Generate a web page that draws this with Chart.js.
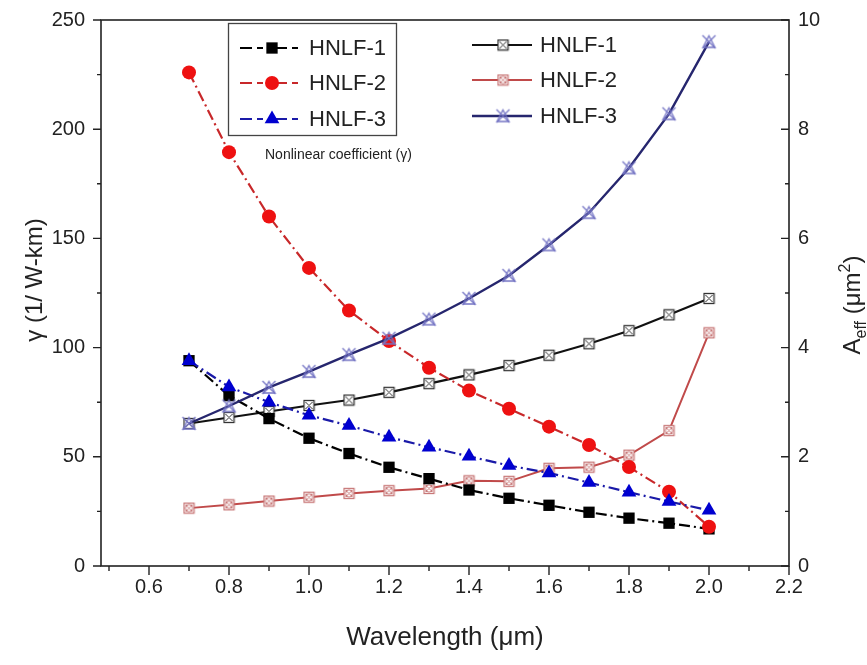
<!DOCTYPE html>
<html><head><meta charset="utf-8">
<script src="https://cdn.jsdelivr.net/npm/chart.js@4.4.1/dist/chart.umd.min.js"></script>
<style>html,body{margin:0;padding:0;background:#fff;}#wrap{width:867px;height:665px;}</style>
</head><body><div id="wrap"><canvas id="c" width="867" height="665"></canvas></div>
<script>
// ---- data ----
const wavelengths = [0.7,0.8,0.9,1.0,1.1,1.2,1.3,1.4,1.5,1.6,1.7,1.8,1.9,2.0];
const gammaHNLF1 = [94,78,67.5,58.5,51.5,45.2,40,34.8,31,27.8,24.6,21.9,19.6,17];
const gammaHNLF2 = [226,189.5,160,136.5,117,103,90.8,80.3,72,63.8,55.4,45.3,34,18];
const gammaHNLF3 = [94,82,75,69,64.3,59,54.4,50.2,46,42.6,38.2,33.8,29.5,25.5];
const aeffHNLF1 = [2.61,2.72,2.83,2.94,3.04,3.18,3.34,3.5,3.67,3.86,4.07,4.31,4.6,4.9];
const aeffHNLF2 = [1.06,1.12,1.19,1.26,1.33,1.38,1.42,1.56,1.55,1.79,1.81,2.03,2.48,4.27];
const aeffHNLF3 = [2.61,2.93,3.27,3.56,3.87,4.17,4.52,4.9,5.32,5.88,6.47,7.29,8.28,9.6];
const seriesNames = ['HNLF-1','HNLF-2','HNLF-3'];
const xTicks = [0.6,0.8,1.0,1.2,1.4,1.6,1.8,2.0,2.2];
const xMinorTicks = [0.5,0.7,0.9,1.1,1.3,1.5,1.7,1.9,2.1];
const yLeftTicks = [0,50,100,150,200,250];
const yLeftMinorTicks = [25,75,125,175,225];
const yRightTicks = [0,2,4,6,8,10];
const yRightMinorTicks = [1,3,5,7,9];
const xTitle = 'Wavelength (\u03bcm)';
const yLeftTitle = '\u03b3 (1/ W-km)';
const annotationText = 'Nonlinear coefficient (\u03b3)';

// ---- styles ----
const FF = '"Liberation Sans", Arial, sans-serif';
const DASHDOT = [11,4,2,4];

function mk(size, draw){
  const c=document.createElement('canvas'); c.width=size; c.height=size;
  const g=c.getContext('2d'); draw(g,size); return c;
}
const boxBlack = mk(13,(g,s)=>{g.strokeStyle='#333';g.lineWidth=1.3;g.fillStyle='#fff';
  g.fillRect(1,1,s-2,s-2);g.strokeRect(1.5,1.5,s-3,s-3);
  g.lineWidth=1;g.beginPath();g.moveTo(3,3);g.lineTo(s-3,s-3);g.moveTo(s-3,3);g.lineTo(3,s-3);g.stroke();});
const boxRed = mk(13,(g,s)=>{g.strokeStyle='#c87878';g.lineWidth=1.3;g.fillStyle='#fff';
  g.fillRect(1,1,s-2,s-2);g.strokeRect(1.5,1.5,s-3,s-3);
  g.lineWidth=1;g.beginPath();g.arc(s/2,s/2,3.6,0,Math.PI*2);g.stroke();
  g.beginPath();g.moveTo(3,3);g.lineTo(s-3,s-3);g.moveTo(s-3,3);g.lineTo(3,s-3);g.stroke();});
const xTriBlue = mk(17,(g,s)=>{g.strokeStyle='#7474c4';g.lineWidth=1.3;
  g.beginPath();g.moveTo(2,2);g.lineTo(s-2,s-2);g.moveTo(s-2,2);g.lineTo(2,s-2);g.stroke();
  g.beginPath();g.moveTo(s/2,2.5);g.lineTo(s-2.5,s-3);g.lineTo(2.5,s-3);g.closePath();g.stroke();});

const datasets = [
  {label:'Aeff '+seriesNames[0], data:aeffHNLF1, yAxisID:'yR', order:5, borderColor:'#111', borderWidth:2.2, pointStyle:boxBlack, pointRadius:6.5},
  {label:'Aeff '+seriesNames[1], data:aeffHNLF2, yAxisID:'yR', order:4, borderColor:'#c04a4a', borderWidth:2, pointStyle:boxRed, pointRadius:6.5},
  {label:'Aeff '+seriesNames[2], data:aeffHNLF3, yAxisID:'yR', order:0, borderColor:'#26266e', borderWidth:2.4, pointStyle:xTriBlue, pointRadius:8.5},
  {label:'gamma '+seriesNames[0], data:gammaHNLF1, yAxisID:'yL', order:3, borderColor:'#000', backgroundColor:'#000', borderWidth:2.2, borderDash:DASHDOT, pointStyle:'rect', pointRadius:8, pointBorderWidth:0},
  {label:'gamma '+seriesNames[1], data:gammaHNLF2, yAxisID:'yL', order:2, borderColor:'#c8282a', backgroundColor:'#ee1111', borderWidth:2.2, borderDash:DASHDOT, pointStyle:'circle', pointRadius:7, pointBorderWidth:0},
  {label:'gamma '+seriesNames[2], data:gammaHNLF3, yAxisID:'yL', order:1, borderColor:'#1a1aa8', backgroundColor:'#0000d0', borderWidth:2.2, borderDash:DASHDOT, pointStyle:'triangle', pointRadius:8.5, pointBorderWidth:0},
].map(d=>Object.assign({tension:0, fill:false, pointHoverRadius:d.pointRadius}, d, {data:d.data.map((v,i)=>({x:wavelengths[i],y:v}))}));

function setTicks(list){ return scale=>{ scale.ticks = list.map(v=>({value:v})); }; }

const decor = {
  id:'decor',
  afterDraw(chart){
    const {ctx, chartArea:a, scales:{x,yL,yR}} = chart;
    ctx.save();
    ctx.strokeStyle='#222'; ctx.lineWidth=1.6;
    ctx.strokeRect(a.left,a.top,a.right-a.left,a.bottom-a.top);
    ctx.lineWidth=1.4;
    ctx.beginPath();
    xTicks.forEach(v=>{const p=x.getPixelForValue(v); ctx.moveTo(p,a.bottom); ctx.lineTo(p,a.bottom+9);});
    xMinorTicks.forEach(v=>{const p=x.getPixelForValue(v); ctx.moveTo(p,a.bottom); ctx.lineTo(p,a.bottom+5);});
    yLeftTicks.forEach(v=>{const p=yL.getPixelForValue(v); ctx.moveTo(a.left-8,p); ctx.lineTo(a.left,p);});
    yLeftMinorTicks.forEach(v=>{const p=yL.getPixelForValue(v); ctx.moveTo(a.left-4,p); ctx.lineTo(a.left,p);});
    yRightTicks.forEach(v=>{const p=yR.getPixelForValue(v); ctx.moveTo(a.right-8,p); ctx.lineTo(a.right,p);});
    yRightMinorTicks.forEach(v=>{const p=yR.getPixelForValue(v); ctx.moveTo(a.right-4,p); ctx.lineTo(a.right,p);});
    ctx.stroke();

    // left axis title
    ctx.fillStyle='#222';
    ctx.save(); ctx.translate(35,280); ctx.rotate(-Math.PI/2);
    ctx.font='24px '+FF; ctx.textAlign='center'; ctx.textBaseline='middle';
    ctx.fillText(yLeftTitle,0,0); ctx.restore();

    // right axis title with sub/superscript
    ctx.save(); ctx.translate(852,305); ctx.rotate(-Math.PI/2); ctx.textBaseline='alphabetic';
    const big='24px '+FF, small='16px '+FF;
    const parts=[{t:'A',f:big,dy:0},{t:'eff',f:small,dy:6},{t:' (\u03bcm',f:big,dy:0},{t:'2',f:small,dy:-10},{t:')',f:big,dy:0}];
    let tot=0; parts.forEach(p=>{ctx.font=p.f; p.w=ctx.measureText(p.t).width; tot+=p.w;});
    let cx=-tot/2; parts.forEach(p=>{ctx.font=p.f; ctx.fillText(p.t,cx,8+p.dy); cx+=p.w;});
    ctx.restore();

    // annotation
    ctx.font='14px '+FF; ctx.textAlign='left'; ctx.textBaseline='middle';
    ctx.fillText(annotationText,265,155);

    // left legend (gamma)
    ctx.fillStyle='#fff'; ctx.fillRect(228,23,168,112);
    ctx.strokeStyle='#444'; ctx.lineWidth=1.3; ctx.strokeRect(228.5,23.5,168,112);
    const ds=chart.data.datasets;
    const gsets=[ds[3],ds[4],ds[5]];
    const gy=[48,83,119];
    gsets.forEach((d,i)=>{
      const y=gy[i];
      ctx.save(); ctx.strokeStyle=d.borderColor; ctx.lineWidth=2.2; ctx.setLineDash([12,5,6,6,2,4]);
      ctx.beginPath(); ctx.moveTo(240,y); ctx.lineTo(298,y); ctx.stroke(); ctx.restore();
      ctx.fillStyle=d.backgroundColor;
      Chart.helpers.drawPoint(ctx,{pointStyle:d.pointStyle,radius:d.pointRadius,borderWidth:0,rotation:0},272,y);
      ctx.fillStyle='#222'; ctx.font='22px '+FF; ctx.textBaseline='middle';
      ctx.fillText(seriesNames[i],309,y+1);
    });
    // right legend (Aeff)
    const asets=[ds[0],ds[1],ds[2]];
    const ay=[45,80,116];
    asets.forEach((d,i)=>{
      const y=ay[i];
      ctx.strokeStyle=d.borderColor; ctx.lineWidth=d.borderWidth;
      ctx.beginPath(); ctx.moveTo(472,y); ctx.lineTo(532,y); ctx.stroke();
      const img=d.pointStyle; ctx.drawImage(img,503-img.width/2,y-img.height/2);
      ctx.fillStyle='#222'; ctx.font='22px '+FF; ctx.textBaseline='middle';
      ctx.fillText(seriesNames[i],540,y+1);
    });
    ctx.restore();
  }
};

new Chart(document.getElementById('c'),{
  type:'line',
  data:{datasets},
  options:{
    responsive:false, animation:false, devicePixelRatio:1,
    layout:{padding:{top:11,left:0,right:0,bottom:0}},
    plugins:{legend:{display:false}, tooltip:{enabled:false}},
    scales:{
      x:{type:'linear', min:0.48, max:2.2, afterBuildTicks:setTicks(xTicks),
         afterFit:s=>{s.height=99;},
         grid:{display:false}, border:{display:false},
         ticks:{color:'#222', font:{family:FF,size:20}, padding:1, maxRotation:0, autoSkip:false, callback:v=>Number(v).toFixed(1)},
         title:{display:true, text:xTitle, color:'#222', font:{family:FF,size:26}, padding:{top:0,bottom:12}}},
      yL:{type:'linear', position:'left', min:0, max:250, afterBuildTicks:setTicks(yLeftTicks),
         afterFit:s=>{s.width=101;},
         grid:{display:false}, border:{display:false},
         ticks:{color:'#222', font:{family:FF,size:20}, padding:8}},
      yR:{type:'linear', position:'right', min:0, max:10, afterBuildTicks:setTicks(yRightTicks),
         afterFit:s=>{s.width=78;},
         grid:{display:false}, border:{display:false},
         ticks:{color:'#222', font:{family:FF,size:20}, padding:1}}
    }
  },
  plugins:[decor]
});
</script></body></html>
